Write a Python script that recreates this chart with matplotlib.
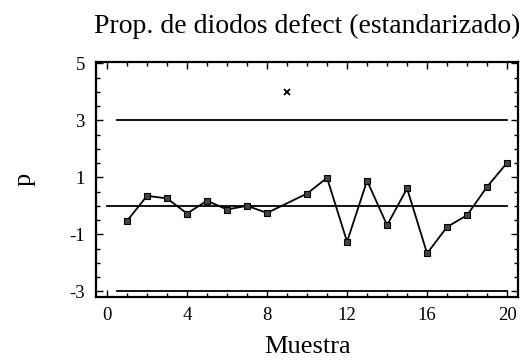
import numpy as np
import matplotlib.pyplot as plt
from matplotlib.ticker import MultipleLocator

# datos
muestra = list(range(1, 21))
p_std = [-0.53, 0.35, 0.26, -0.27, 0.18, -0.13, 0.0, -0.25, 4.0, 0.43,
         0.98, -1.26, 0.88, -0.68, 0.61, -1.67, -0.74, -0.33, 0.67, 1.51]
fuera = [9]  # muestra fuera de control
lcs, lc, lci = 3.0, 0.0, -3.0

plt.rcParams['font.family'] = ['Liberation Serif', 'DejaVu Serif']
plt.rcParams['axes.unicode_minus'] = False

fig = plt.figure(figsize=(5.26, 3.6), dpi=100)
ax = fig.add_axes([0.1825, 0.175, 0.8025, 0.653])

# limites de control
ax.plot([0.5, 20], [lcs, lcs], color='black', lw=1.3)
ax.plot([0, 20], [lc, lc], color='black', lw=1.3)
ax.plot([0.5, 20], [lci, lci], color='black', lw=1.3)

# puntos dentro de control unidos con linea
xs = [m for m in muestra if m not in fuera]
ys = [v for m, v in zip(muestra, p_std) if m not in fuera]
ax.plot(xs, ys, color='black', lw=1.3, marker='s', markersize=4.5,
        markerfacecolor='#444444', markeredgecolor='black', markeredgewidth=0.8)
xo = [m for m in muestra if m in fuera]
yo = [v for m, v in zip(muestra, p_std) if m in fuera]
ax.plot(xo, yo, linestyle='none', marker='x', color='black', markersize=4.5,
        markeredgewidth=1.3)

ax.set_xlim(-0.55, 20.55)
ax.set_ylim(-3.2, 5.05)
ax.xaxis.set_major_locator(MultipleLocator(4))
ax.xaxis.set_minor_locator(MultipleLocator(1))
ax.set_yticks([-3, -1, 1, 3, 5])
ax.yaxis.set_minor_locator(MultipleLocator(0.5))
ax.tick_params(which='both', direction='in', top=True, right=True,
               labelsize=13.5, width=1)
ax.tick_params(axis='x', pad=7)
ax.tick_params(axis='y', pad=8)
ax.tick_params(which='major', length=5)
ax.tick_params(which='minor', length=3)
for s in ax.spines.values():
    s.set_linewidth(1.6)

ax.set_title('Prop. de diodos defect (estandarizado)', fontsize=20, pad=21)
ax.set_xlabel('Muestra', fontsize=19, labelpad=9)
ax.set_ylabel('p', fontsize=19, labelpad=24)

fig.savefig('out.png', dpi=100)
